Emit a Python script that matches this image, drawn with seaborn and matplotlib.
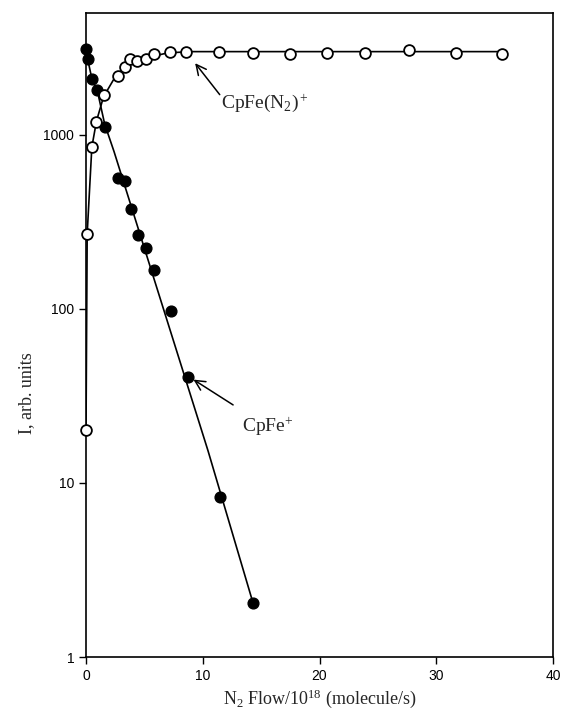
import numpy as np
import pandas as pd
import seaborn as sns
import matplotlib.pyplot as plt
from matplotlib.ticker import FixedLocator, NullLocator

# 数据：N2 流量 (10^18 molecule/s) 与离子强度
n2_flow_open = [0.0, 0.1, 0.5, 0.85, 1.5, 2.7, 3.3, 3.8, 4.4, 5.1, 5.8, 7.2, 8.6,
                11.4, 14.3, 17.5, 20.6, 23.9, 27.7, 31.7, 35.6]
cpfen2_int = [20, 270, 850, 1190, 1700, 2180, 2460, 2730, 2660, 2730, 2920, 3000, 3000,
              3000, 2950, 2900, 2950, 2950, 3050, 2950, 2900]

n2_flow_fill = [0.0, 0.15, 0.5, 0.95, 1.6, 2.7, 3.3, 3.85, 4.45, 5.1, 5.8, 7.3, 8.7,
                11.5, 14.3]
cpfe_int = [3100, 2720, 2090, 1810, 1110, 567, 545, 372, 264, 222, 166, 97, 40.6,
            8.3, 2.05]

# 拟合曲线
curve_open_x = [0.0, 0.1, 0.5, 0.9, 1.5, 2.5, 3.5, 5.0, 7.0, 9.0, 35.6]
curve_open_y = [20, 270, 850, 1200, 1650, 2150, 2500, 2750, 2950, 3000, 3000]
curve_fill_x = [0.0, 0.15, 0.5, 1.0, 1.6, 2.4, 10.45, 14.3]
curve_fill_y = [3100, 2700, 2100, 1750, 1150, 800, 15.3, 2.05]

x_ticks = [0, 10, 20, 30, 40]
y_ticks = [1, 10, 100, 1000]
y_ticklabels = ['1', '10', '100', '1000']

sns.set_style('ticks')
plt.rcParams['font.family'] = ['Liberation Sans', 'DejaVu Sans']
plt.rcParams['mathtext.fontset'] = 'custom'
plt.rcParams['mathtext.rm'] = 'Liberation Serif'
plt.rcParams['mathtext.it'] = 'Liberation Serif:italic'
plt.rcParams['mathtext.bf'] = 'Liberation Serif:bold'

fig = plt.figure(figsize=(5.67, 7.22), dpi=100)
ax = fig.add_axes([0.1517, 0.09, 0.8236, 0.892])

df_open = pd.DataFrame({'x': n2_flow_open, 'y': cpfen2_int})
df_fill = pd.DataFrame({'x': n2_flow_fill, 'y': cpfe_int})
df_c_open = pd.DataFrame({'x': curve_open_x, 'y': curve_open_y})
df_c_fill = pd.DataFrame({'x': curve_fill_x, 'y': curve_fill_y})

sns.lineplot(data=df_c_open, x='x', y='y', ax=ax, color='black', lw=1.2,
             sort=False, estimator=None)
sns.lineplot(data=df_c_fill, x='x', y='y', ax=ax, color='black', lw=1.2,
             sort=False, estimator=None)
sns.scatterplot(data=df_fill, x='x', y='y', ax=ax, color='black', s=60,
                edgecolor='black', linewidth=1, zorder=3, clip_on=False)
sns.scatterplot(data=df_open, x='x', y='y', ax=ax, facecolor='white', s=60,
                edgecolor='black', linewidth=1.3, zorder=4, clip_on=False)

ax.set_yscale('log')
ax.set_xlim(0, 40)
ax.set_ylim(1, 5000)
ax.xaxis.set_major_locator(FixedLocator(x_ticks))
ax.yaxis.set_major_locator(FixedLocator(y_ticks))
ax.yaxis.set_minor_locator(NullLocator())
ax.set_yticklabels(y_ticklabels)
ax.tick_params(direction='out', length=5, width=1, labelsize=10, colors='black')

for s in ax.spines.values():
    s.set_linewidth(1.2)
    s.set_color('black')

ax.set_xlabel('N$_2$ Flow/10$^{18}$ (molecule/s)', fontsize=13,
              family='Liberation Serif', labelpad=3)
ax.set_ylabel('I, arb. units', fontsize=13, family='Liberation Serif')
ax.yaxis.set_label_coords(-0.11, 0.41)

# 标注
ax.annotate('', xy=(9.2, 2650), xytext=(11.6, 1650),
            arrowprops=dict(arrowstyle='->', color='black', lw=1.1,
                            mutation_scale=18))
ax.text(11.6, 1520, 'CpFe(N$_2$)$^+$', fontsize=14, family='Liberation Serif',
        ha='left', va='center')

ax.annotate('', xy=(9.0, 40), xytext=(12.8, 27.5),
            arrowprops=dict(arrowstyle='->', color='black', lw=1.1,
                            mutation_scale=18))
ax.text(13.4, 21, 'CpFe$^{+}$', fontsize=14, family='Liberation Serif',
        ha='left', va='center')

plt.savefig('out.png', dpi=100)
